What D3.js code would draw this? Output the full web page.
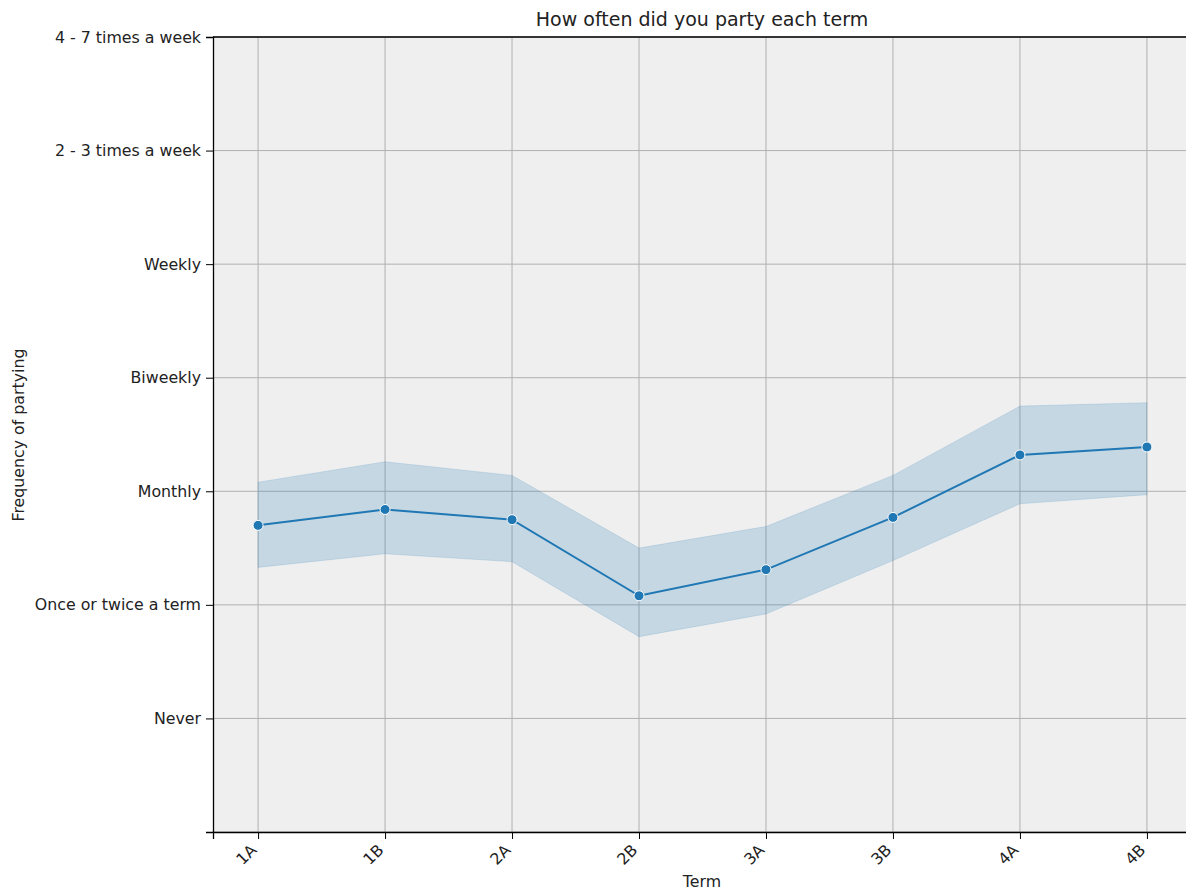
<!DOCTYPE html>
<html><head><meta charset="utf-8">
<script src="https://cdn.jsdelivr.net/npm/d3@7"></script>
<style>body{margin:0;background:#fff;} svg{display:block;} svg text{font-family:"DejaVu Sans",sans-serif;}</style>
</head><body>
<svg id="c" width="1186" height="890"></svg>
<script>
const terms = ["1A","1B","2A","2B","3A","3B","4A","4B"];
const meanVals = [1.70, 1.84, 1.75, 1.08, 1.31, 1.77, 2.32, 2.39];
const upperVals = [2.08, 2.26, 2.14, 1.50, 1.69, 2.14, 2.75, 2.78];
const lowerVals = [1.33, 1.45, 1.38, 0.72, 0.92, 1.39, 1.89, 1.97];
const yTickVals = [-1, 0, 1, 2, 3, 4, 5, 6];
const yTickLabels = ["", "Never", "Once or twice a term", "Monthly", "Biweekly", "Weekly", "2 - 3 times a week", "4 - 7 times a week"];

const svg = d3.select("#c");
const L = 213, T = 37, B = 832;
const x = d3.scaleLinear().domain([-0.355, 7.355]).range([L, 1192]);
const y = d3.scaleLinear().domain([-1, 6]).range([B, T]);
const R = 1192;

svg.append("rect").attr("x", L).attr("y", T).attr("width", R - L).attr("height", B - T).attr("fill", "#efefef");

// grid
svg.append("g").selectAll("line").data(terms).join("line")
  .attr("x1", (d,i)=>x(i)).attr("x2", (d,i)=>x(i)).attr("y1", T).attr("y2", B)
  .attr("stroke", "#b0b0b0").attr("stroke-width", 1);
svg.append("g").selectAll("line").data(yTickVals).join("line")
  .attr("x1", L).attr("x2", R).attr("y1", d=>y(d)).attr("y2", d=>y(d))
  .attr("stroke", "#b0b0b0").attr("stroke-width", 1);

// band
const area = d3.area().x((d,i)=>x(i)).y0((d,i)=>y(lowerVals[i])).y1((d,i)=>y(upperVals[i]));
svg.append("path").datum(terms).attr("d", area)
  .attr("fill", "#1f77b4").attr("fill-opacity", 0.2)
  .attr("stroke", "#1f77b4").attr("stroke-opacity", 0.15).attr("stroke-width", 1);

// line
const line = d3.line().x((d,i)=>x(i)).y((d,i)=>y(meanVals[i]));
svg.append("path").datum(terms).attr("d", line)
  .attr("fill", "none").attr("stroke", "#1f77b4").attr("stroke-width", 2);
svg.append("g").selectAll("circle").data(meanVals).join("circle")
  .attr("cx", (d,i)=>x(i)).attr("cy", d=>y(d)).attr("r", 5)
  .attr("fill", "#1f77b4").attr("stroke", "#fff").attr("stroke-width", 1);

// axes
const FS = 15.8;
const xAxis = d3.axisBottom(x).tickValues(d3.range(terms.length)).tickFormat(i=>terms[i]).tickSizeOuter(0).tickSize(7).tickPadding(4);
const gx = svg.append("g").attr("transform", `translate(0,${B})`).call(xAxis).attr("font-family", null);
gx.select(".domain").attr("stroke", "#000").attr("stroke-width", 1.3);
gx.selectAll(".tick line").attr("stroke", "#000");
gx.selectAll(".tick text").attr("font-size", FS).attr("fill", "#222")
  .attr("text-anchor", "end").attr("dy", null).attr("y", 0)
  .attr("transform", "translate(-1,19) rotate(-45)");

const yAxis = d3.axisLeft(y).tickValues(yTickVals).tickFormat((d,i)=>yTickLabels[i]).tickSizeOuter(0).tickSize(7).tickPadding(5);
const gy = svg.append("g").attr("transform", `translate(${L},0)`).call(yAxis).attr("font-family", null);
gy.select(".domain").attr("stroke", "#000").attr("stroke-width", 1.3);
gy.selectAll(".tick line").attr("stroke", "#000");
gy.selectAll(".tick text").attr("font-size", FS).attr("fill", "#222");

// top spine
svg.append("line").attr("x1", L).attr("x2", R).attr("y1", T).attr("y2", T).attr("stroke", "#000").attr("stroke-width", 1.3);

svg.append("text").attr("x", 702).attr("y", 26).attr("text-anchor", "middle").attr("font-size", 19).attr("fill", "#222").text("How often did you party each term");
svg.append("text").attr("x", 702).attr("y", 887).attr("text-anchor", "middle").attr("font-size", FS).attr("fill", "#222").text("Term");
svg.append("text").attr("transform", "translate(24,435) rotate(-90)").attr("text-anchor", "middle").attr("font-size", FS).attr("fill", "#222").text("Frequency of partying");
</script>
</body></html>
